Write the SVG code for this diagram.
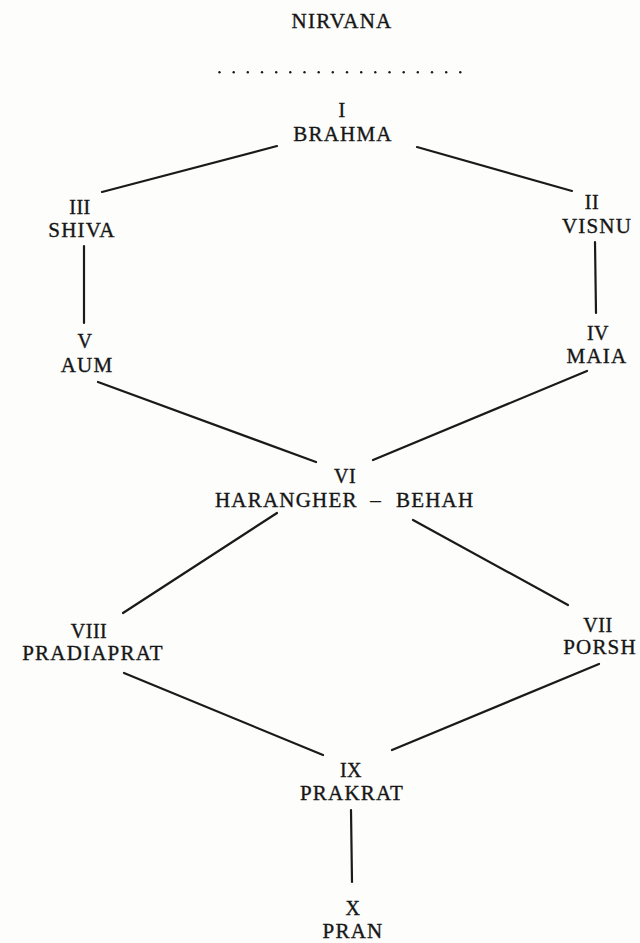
<svg xmlns="http://www.w3.org/2000/svg" width="640" height="943" viewBox="0 0 640 943">
<style>
.t{font-family:"Liberation Serif","Times New Roman",serif;font-size:21px;letter-spacing:1.2px;text-anchor:middle;fill:#161616;stroke:#161616;stroke-width:0.35}
.n{font-size:20px;letter-spacing:0.5px}
.c line{stroke:#1a1a1a;stroke-width:2.2;stroke-linecap:round}
.d circle{fill:#1a1a1a}
</style>
<rect width="640" height="943" fill="#fdfdfb"/>
<g id="nirvana"><text class="t" x="342" y="28">NIRVANA</text></g>
<g id="dots" class="d">
<circle cx="219.5" cy="72.3" r="1.2"/><circle cx="233.7" cy="72.3" r="1.2"/><circle cx="247.8" cy="72.3" r="1.2"/><circle cx="262" cy="72.3" r="1.2"/><circle cx="276.2" cy="72.3" r="1.2"/><circle cx="290.3" cy="72.3" r="1.2"/><circle cx="304.5" cy="72.3" r="1.2"/><circle cx="318.7" cy="72.3" r="1.2"/><circle cx="332.8" cy="72.3" r="1.2"/><circle cx="347" cy="72.3" r="1.2"/><circle cx="361.2" cy="72.3" r="1.2"/><circle cx="375.3" cy="72.3" r="1.2"/><circle cx="389.5" cy="72.3" r="1.2"/><circle cx="403.7" cy="72.3" r="1.2"/><circle cx="417.8" cy="72.3" r="1.2"/><circle cx="432" cy="72.3" r="1.2"/><circle cx="446.2" cy="72.3" r="1.2"/><circle cx="460.3" cy="72.3" r="1.2"/>
</g>
<g id="n1"><text class="t n" x="342" y="117">I</text><text class="t" x="343" y="141">BRAHMA</text></g>
<g id="n2"><text class="t n" x="592" y="209">II</text><text class="t" x="597" y="233">VISNU</text></g>
<g id="n3"><text class="t n" x="80" y="214">III</text><text class="t" x="82" y="237">SHIVA</text></g>
<g id="n4"><text class="t n" x="598" y="340">IV</text><text class="t" x="597" y="363">MAIA</text></g>
<g id="n5"><text class="t n" x="85" y="348">V</text><text class="t" x="87" y="372">AUM</text></g>
<g id="n6"><text class="t n" x="345" y="483">VI</text><text class="t" x="215" y="507" style="text-anchor:start">HARANGHER</text><text class="t" x="376" y="507">–</text><text class="t" x="396" y="507" style="text-anchor:start">BEHAH</text></g>
<g id="n7"><text class="t n" x="598" y="632">VII</text><text class="t" x="600" y="654">PORSH</text></g>
<g id="n8"><text class="t n" x="89" y="638">VIII</text><text class="t" x="93" y="660">PRADIAPRAT</text></g>
<g id="n9"><text class="t n" x="351" y="777">IX</text><text class="t" x="352" y="800">PRAKRAT</text></g>
<g id="n10"><text class="t n" x="353" y="915">X</text><text class="t" x="353" y="938">PRAN</text></g>
<g id="connectors" class="c">
<line x1="277" y1="146" x2="102" y2="192"/>
<line x1="417" y1="147" x2="572" y2="191"/>
<line x1="84" y1="246" x2="84" y2="323"/>
<line x1="595" y1="242" x2="596" y2="313"/>
<line x1="98" y1="382" x2="316" y2="462"/>
<line x1="587" y1="371" x2="373" y2="460"/>
<line x1="277" y1="513" x2="123" y2="613"/>
<line x1="413" y1="520" x2="568" y2="605"/>
<line x1="124" y1="673" x2="323" y2="755"/>
<line x1="599" y1="664" x2="392" y2="750"/>
<line x1="351" y1="810" x2="352" y2="882"/>
</g>
</svg>
